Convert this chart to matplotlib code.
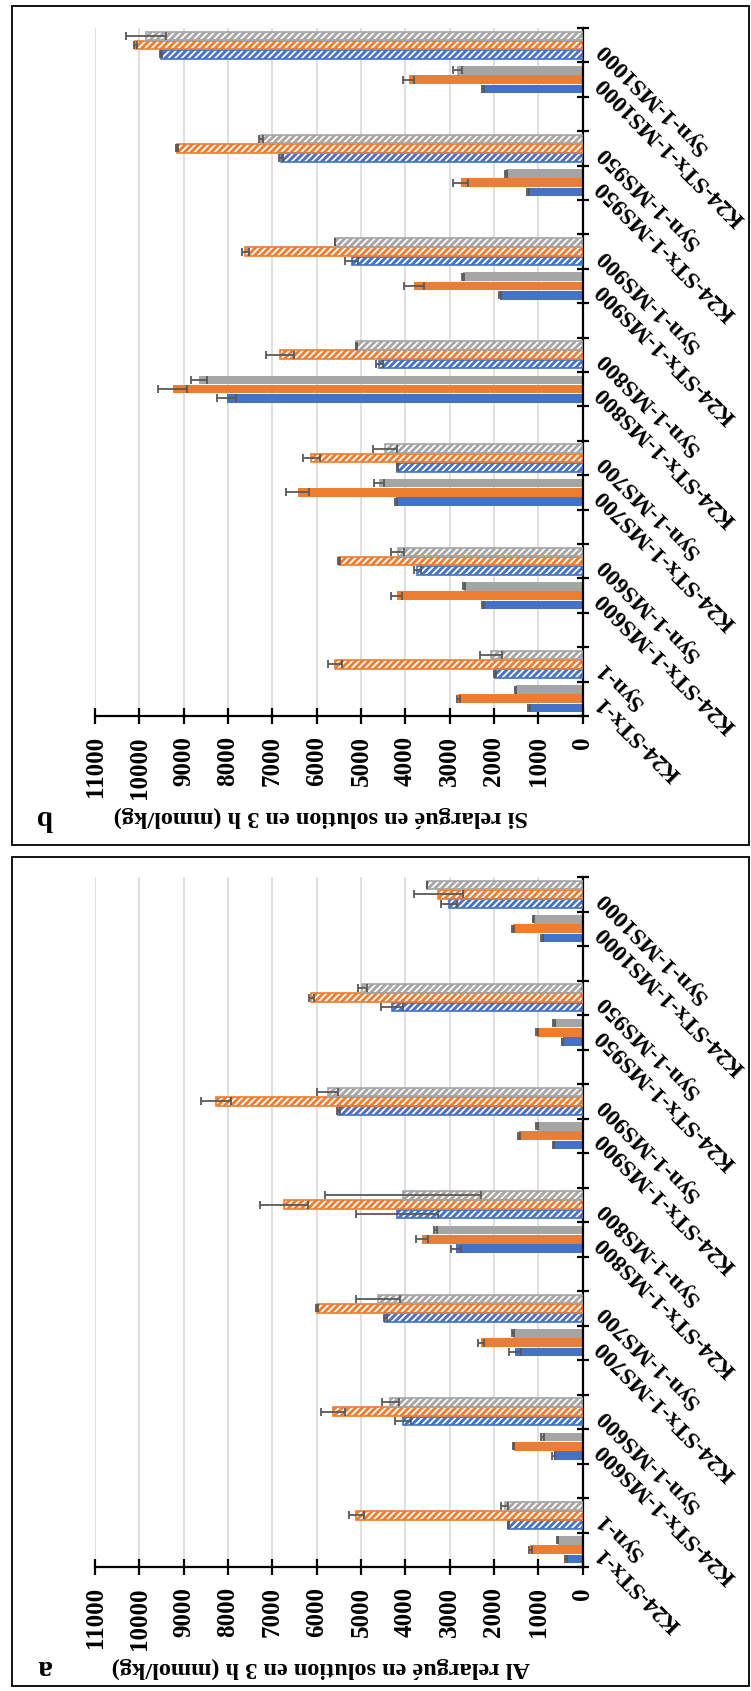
import numpy as np
import matplotlib.pyplot as plt
from matplotlib.patches import Rectangle

plt.rcParams['font.family'] = ['Liberation Serif', 'DejaVu Serif']
plt.rcParams['font.weight'] = 'bold'
plt.rcParams['hatch.linewidth'] = 1.3

# sample names, bottom to top (K24 = plain bars, Syn = hatched bars)
samples = ['K24-STx-1', 'Syn-1',
           'K24-STx-1-MS600', 'Syn-1-MS600',
           'K24-STx-1-MS700', 'Syn-1-MS700',
           'K24-STx-1-MS800', 'Syn-1-MS800',
           'K24-STx-1-MS900', 'Syn-1-MS900',
           'K24-STx-1-MS950', 'Syn-1-MS950',
           'K24-STx-1-MS1000', 'Syn-1-MS1000']

# Al released (mmol/kg)
al_blue = [370, 1670, 650, 4040, 1530, 4450, 2860, 4180, 650, 5510, 450, 4290, 910, 3010]
al_orange = [1180, 5100, 1550, 5640, 2290, 5990, 3620, 6740, 1430, 8270, 1030, 6120, 1570, 3250]
al_gray = [560, 1750, 910, 4340, 1570, 4610, 3320, 4050, 1030, 5750, 640, 4970, 1100, 3500]
al_blue_err = [20, 20, 30, 180, 135, 40, 110, 920, 15, 30, 15, 250, 20, 180]
al_orange_err = [30, 170, 15, 270, 60, 30, 130, 540, 30, 340, 15, 60, 15, 560]
al_gray_err = [10, 80, 30, 190, 15, 490, 30, 1750, 20, 240, 20, 100, 10, 0]

# Si released (mmol/kg)
si_blue = [1210, 1970, 2240, 3730, 4210, 4180, 8030, 4590, 1860, 5210, 1230, 6800, 2240, 9510]
si_orange = [2800, 5580, 4190, 5500, 6430, 6120, 9250, 6820, 3800, 7610, 2750, 9150, 3920, 10090]
si_gray = [1510, 2070, 2670, 4170, 4590, 4450, 8650, 5100, 2690, 5580, 1730, 7250, 2830, 9840]
si_blue_err = [20, 20, 20, 80, 15, 15, 215, 80, 20, 140, 20, 50, 20, 20]
si_orange_err = [30, 160, 120, 20, 250, 190, 320, 320, 230, 80, 170, 20, 120, 40]
si_gray_err = [20, 250, 20, 150, 120, 270, 180, 20, 20, 0, 20, 40, 100, 450]

colors = ['#4472C4', '#ED7D31', '#A5A5A5']
ticks = np.arange(0, 11001, 1000)

W, H = 751, 1691
fig = plt.figure(figsize=(W / 100, H / 100), dpi=100)


def fx(px):
    return px / W


def fy(py):
    return 1 - py / H


# each pair of samples is followed by an empty slot
pos = np.array([3 * (i // 2) + (i % 2) for i in range(len(samples))])
hatched = np.array([i % 2 == 1 for i in range(len(samples))])
n_slots = 20


def panel(ax, series, errs, ylabel, letter, label_y):
    ax.set_xlim(11000, 0)
    ax.set_ylim(-0.5, n_slots - 0.5)
    for x in ticks:
        ax.axvline(x, color='#D9D9D9', lw=1.2, zorder=0)

    h = 0.25
    for k, (vals, err, c) in enumerate(zip(series, errs, colors)):
        vals = np.array(vals)
        err = np.array(err)
        y = pos + (k - 1) * 0.27
        solid = ~hatched
        ax.barh(y[solid], vals[solid], height=h, color=c, lw=0, zorder=2)
        ax.barh(y[hatched], vals[hatched], height=h, color=c, edgecolor='white',
                hatch='/////', lw=0, zorder=2)
        ax.barh(y[hatched], vals[hatched], height=h, fill=False, edgecolor=c,
                lw=1.2, zorder=3)
        ax.errorbar(vals, y, xerr=err, fmt='none', ecolor='#595959',
                    elinewidth=1.3, capsize=3, capthick=1.3, zorder=4)

    for s in ['left', 'top']:
        ax.spines[s].set_visible(False)
    for s in ['right', 'bottom']:
        ax.spines[s].set_linewidth(1.6)

    ax.set_xticks(ticks)
    ax.set_xticklabels([str(t) for t in ticks], rotation=90, fontsize=18,
                       fontweight='bold')
    ax.tick_params(axis='x', direction='inout', length=11, width=1.6, pad=9)

    ax.yaxis.tick_right()
    ax.set_yticks(np.arange(-0.5, n_slots, 1.0))
    ax.set_yticklabels([])
    ax.tick_params(axis='y', direction='inout', length=9, width=1.6)

    for name, p in zip(samples, pos):
        ax.text(1.035, p, name, transform=ax.get_yaxis_transform(),
                rotation=135, rotation_mode='anchor', ha='right', va='center',
                fontsize=17, fontweight='bold')

    fig.text(fx(321), fy(label_y), ylabel, rotation=180, ha='center',
             va='center', fontsize=17.5, fontweight='bold')
    fig.text(fx(44), fy(label_y), letter, rotation=180, ha='center',
             va='center', fontsize=21, fontweight='bold')


ax_b = fig.add_axes([fx(95), fy(716), 487.5 / W, (716 - 28) / H])
panel(ax_b, [si_blue, si_orange, si_gray], [si_blue_err, si_orange_err, si_gray_err],
      'Si relargué en solution en 3 h (mmol/kg)', 'b', 817)

ax_a = fig.add_axes([fx(95), fy(1567), 487.5 / W, (1567 - 877) / H])
panel(ax_a, [al_blue, al_orange, al_gray], [al_blue_err, al_orange_err, al_gray_err],
      'Al relargué en solution en 3 h (mmol/kg)', 'a', 1668)

for top, bottom in [(6, 845), (857, 1686)]:
    fig.add_artist(Rectangle((fx(12), fy(bottom)), fx(749) - fx(12), fy(top) - fy(bottom),
                             transform=fig.transFigure, fill=False, lw=1.3,
                             edgecolor='black'))

fig.savefig('out.png', dpi=100)
